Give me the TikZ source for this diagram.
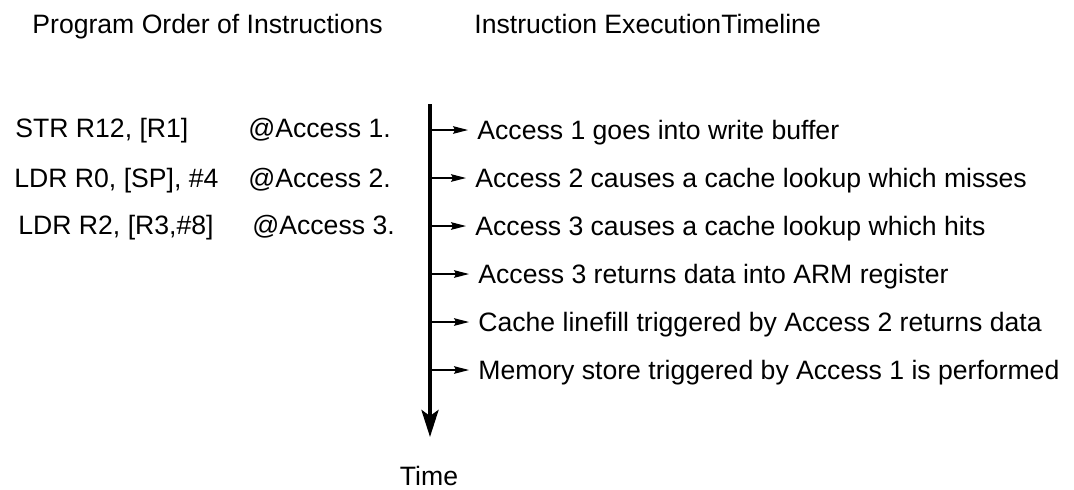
\documentclass[tikz,border=0pt]{standalone}
\usepackage{fontspec}
\setmainfont{Liberation Sans}
\usepackage{tikz}
\usetikzlibrary{arrows.meta, positioning}

\begin{document}
\begin{tikzpicture}[x=0.5pt, y=-0.5pt]
\tikzstyle{txt} = [inner sep=0pt, anchor=west, text height=12.3pt, text depth=2.8pt, font=\fontsize{13.3}{16}\selectfont]
\tikzstyle{head} = [inner sep=0pt, font=\fontsize{13.3}{16}\selectfont]
\tikzstyle{spine} = [line width=2pt, -{Stealth[length=13.5pt, width=8.5pt, inset=3pt]}]
\tikzstyle{tick} = [line width=0.55pt, -{Stealth[length=7.5pt, width=3.8pt, inset=1pt]}, shorten >=4.5pt]

\useasboundingbox (0,0) rectangle (1074,489);

% Headers
\node (prog) [head, anchor=base west] at (32,33) {Program Order of Instructions};
\node (exec) [head, anchor=base west] at (474,33) {Instruction ExecutionTimeline};

% Program side
\node (str) [txt] at (15,128) {STR R12, [R1]};
\node (ldra) [txt] at (14,178) {LDR R0, [SP], \#4};
\node (ldrb) [txt] at (18,225) {LDR R2, [R3,\#8]};
\node (acca) [txt] at (248,128) {@Access 1.};
\node (accb) [txt] at (248,178) {@Access 2.};
\node (accc) [txt] at (252,225) {@Access 3.};

% Timeline
\coordinate (top) at (430,104);
\coordinate (bot) at (430,437);
\node (time) [head, anchor=base] at (429,485) {Time};

\node (ev1) [txt] at (477,130) {Access 1 goes into write buffer};
\node (ev2) [txt, below=24pt of ev1.west, anchor=west, xshift=-1pt] {Access 2 causes a cache lookup which misses};
\node (ev3) [txt, below=24pt of ev2.west, anchor=west] {Access 3 causes a cache lookup which hits};
\node (ev4) [txt, below=24pt of ev3.west, anchor=west, xshift=1.5pt] {Access 3 returns data into ARM register};
\node (ev5) [txt, below=24pt of ev4.west, anchor=west] {Cache linefill triggered by Access 2 returns data};
\node (ev6) [txt, below=24pt of ev5.west, anchor=west] {Memory store triggered by Access 1 is performed};

% Connections
\draw [spine] (top) -- (bot);
\draw [tick] (top |- ev1.west) -- (ev1.west);
\draw [tick] (top |- ev2.west) -- (ev2.west);
\draw [tick] (top |- ev3.west) -- (ev3.west);
\draw [tick] (top |- ev4.west) -- (ev4.west);
\draw [tick] (top |- ev5.west) -- (ev5.west);
\draw [tick] (top |- ev6.west) -- (ev6.west);

\end{tikzpicture}
\end{document}
